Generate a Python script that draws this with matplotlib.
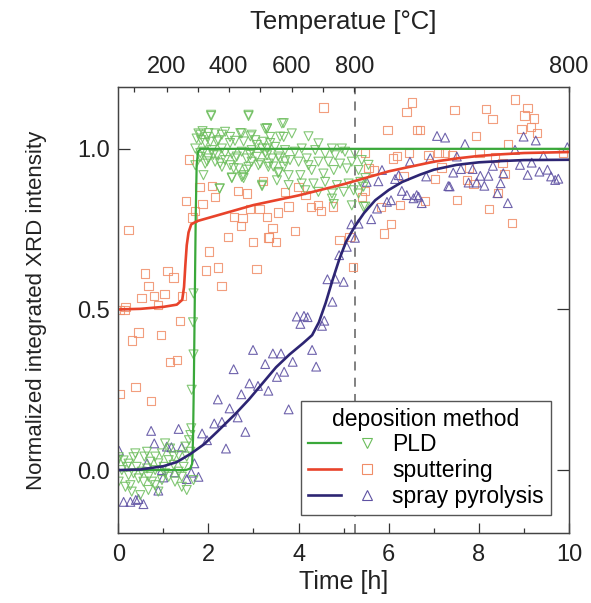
import numpy as np
import matplotlib
matplotlib.use("Agg")
import matplotlib.pyplot as plt
from matplotlib.lines import Line2D
from matplotlib.legend_handler import HandlerTuple

plt.rcParams['font.family'] = ['Liberation Sans', 'DejaVu Sans']

# ---- fitted curves (time [h], normalized intensity)
pld_fit_t = [0, 1.5, 1.6, 1.64, 1.66, 1.68, 1.70, 1.72, 1.74, 1.77, 1.82, 2.0, 10]
pld_fit_y = [0, 0.0, 0.005, 0.02, 0.1, 0.3, 0.55, 0.8, 0.95, 0.99, 1.0, 1.0, 1.0]

sput_fit_t = [0, 0.5, 1.0, 1.3, 1.42, 1.46, 1.49, 1.52, 1.56, 1.62, 1.75, 2.0, 3.0, 4.0,
              5.0, 5.5, 6.0, 6.5, 7.0, 7.5, 8.0, 8.5, 9.0, 10]
sput_fit_y = [0.5, 0.502, 0.508, 0.515, 0.53, 0.57, 0.64, 0.7, 0.74, 0.765, 0.775, 0.785,
              0.825, 0.855, 0.89, 0.91, 0.93, 0.945, 0.96, 0.97, 0.978, 0.983, 0.987, 0.99]

spray_fit_t = [0, 0.5, 1.0, 1.3, 1.6, 1.9, 2.2, 2.6, 2.9, 3.2, 3.5, 3.8, 4.1, 4.3, 4.45,
               4.6, 4.75, 4.9, 5.05, 5.24, 5.45, 5.7, 6.0, 6.3, 6.7, 7.0, 7.5, 8.0, 8.5,
               9.0, 10]
spray_fit_y = [0, 0.002, 0.012, 0.025, 0.05, 0.08, 0.12, 0.175, 0.22, 0.27, 0.32, 0.36,
               0.395, 0.42, 0.46, 0.52, 0.59, 0.655, 0.71, 0.757, 0.8, 0.84, 0.872, 0.897,
               0.92, 0.935, 0.95, 0.958, 0.962, 0.965, 0.966]

# ---- measured points
pld_pts = [
    (0.01, 0.04), (0.12, 0.03), (0.23, 0.02), (0.34, 0.04), (0.41, 0.01), (0.52, -0.005),
    (0.64, 0.005), (0.71, 0.026), (0.82, 0.042), (0.89, 0.021), (1.01, 0.01), (1.12, 0.031),
    (1.23, 0.016), (1.34, -0.005), (1.45, 0.01), (1.52, 0.042), (1.6, 0.057), (1.57, 0.093),
    (1.49, 0.073), (1.04, 0.083), (1.15, 0.067), (0.97, 0.052), (0.82, 0.0), (0.67, -0.021),
    (0.56, -0.036), (0.45, -0.026), (0.34, -0.01), (0.23, -0.016), (0.08, 0.0), (0.01, -0.036),
    (0.16, -0.052), (0.3, -0.067), (0.49, -0.078), (0.67, -0.062), (0.82, -0.047), (0.97, -0.031),
    (1.12, -0.021), (1.26, -0.036), (1.41, -0.052), (1.52, -0.062), (1.67, -0.031), (1.34, 0.047),
    (1.23, 0.042), (0.38, 0.052), (0.27, -0.047), (0.89, -0.067), (1.41, -0.021), (1.6, 0.109),
    (1.62, 0.13), (0.58, 0.042), (0.19, 0.01), (0.75, -0.036), (1.04, -0.01), (0.0, 0.031),
    (0.64, 0.057),
    (1.66, 0.46), (1.67, 0.36), (1.63, 0.25), (1.67, 0.55),
    (2.06, 1.102), (2.89, 1.102), (1.78, 1.048), (1.87, 1.055), (1.97, 1.037), (2.15, 1.048),
    (2.37, 1.053), (2.48, 1.037), (2.74, 1.048), (2.93, 1.039), (3.26, 1.063), (1.74, 1.032),
    (1.84, 1.027), (2.04, 1.022), (2.22, 1.027), (2.59, 1.025), (3.04, 1.027), (3.22, 1.022),
    (1.71, 1.001), (1.89, 0.991), (2.08, 0.996), (2.30, 1.001), (2.52, 0.985), (2.74, 0.991),
    (2.96, 0.996), (3.19, 1.001), (1.82, 0.975), (2.00, 0.970), (2.19, 0.980), (2.37, 0.965),
    (2.59, 0.970), (2.85, 0.970), (3.07, 0.975), (3.30, 0.980), (1.71, 0.949), (1.93, 0.954),
    (2.30, 0.944), (2.48, 0.949), (2.67, 0.939), (2.89, 0.944), (3.11, 0.949), (3.33, 0.954),
    (1.89, 0.918), (2.52, 0.911), (2.74, 0.913), (2.25, 0.876), (3.19, 0.884), (2.78, 0.918),
    (2.15, 0.960), (2.96, 0.960),
    (3.30, 1.063), (3.37, 1.037), (3.63, 1.079), (3.67, 1.037), (3.85, 1.048), (4.22, 1.039),
    (4.44, 1.017), (4.74, 1.001), (4.96, 1.001), (3.30, 1.001), (3.48, 1.006), (3.70, 0.996),
    (3.92, 0.991), (4.07, 1.001), (4.37, 0.996), (4.59, 0.985), (4.81, 0.980), (5.03, 0.991),
    (5.25, 0.985), (3.41, 0.970), (3.59, 0.970), (3.81, 0.965), (4.00, 0.960), (4.18, 0.970),
    (4.44, 0.960), (4.66, 0.960), (4.92, 0.954), (5.18, 0.960), (5.40, 0.965), (3.33, 0.944),
    (3.56, 0.928), (3.78, 0.918), (4.04, 0.918), (4.29, 0.934), (4.55, 0.923), (4.78, 0.934),
    (5.07, 0.939), (5.33, 0.934), (3.52, 0.902), (3.78, 0.887), (4.07, 0.892), (4.33, 0.892),
    (4.59, 0.897), (4.85, 0.887), (5.11, 0.892), (5.37, 0.897), (4.15, 0.871), (4.44, 0.866),
    (4.74, 0.861), (5.00, 0.866), (5.22, 0.871), (5.44, 0.882), (4.78, 0.828), (5.18, 0.824),
    (5.44, 0.819), (4.74, 0.845), (5.33, 0.861), (4.22, 0.949), (3.67, 0.944),
    (5.48, 0.909), (5.48, 0.82), (5.55, 0.95),
    (2.06, 1.106), (2.89, 1.106), (3.67, 1.08), (1.82, 1.044), (2.0, 1.049), (2.30, 1.044),
    (2.71, 1.049), (2.96, 1.044), (3.30, 1.064), (3.59, 1.038), (1.93, 1.018), (2.19, 1.023),
    (2.48, 1.018), (2.78, 1.023), (3.07, 1.012), (3.37, 1.018), (1.82, 0.987), (2.11, 0.981),
    (2.37, 0.987), (2.63, 0.976), (2.93, 0.981), (3.26, 0.987), (3.55, 0.976), (1.97, 0.961),
    (2.26, 0.955), (2.56, 0.940), (2.85, 0.935), (3.15, 0.955), (3.44, 0.945), (3.70, 0.961),
    (2.52, 0.909), (2.78, 0.909), (3.55, 0.924), (2.25, 0.877), (3.19, 0.888),
]

sput_pts = [
    (0.23, 0.747), (1.57, 0.967), (1.51, 0.838), (1.71, 0.807), (1.65, 0.786), (1.87, 0.828),
    (1.80, 0.882), (2.08, 0.884), (2.15, 0.85), (2.65, 0.869), (2.85, 0.861), (2.93, 0.813),
    (3.13, 0.813), (2.57, 0.788), (2.76, 0.785), (2.72, 0.759), (2.43, 0.726), (2.99, 0.709),
    (2.01, 0.68), (1.94, 0.621), (2.22, 0.631), (3.07, 0.626), (2.29, 0.574), (3.21, 0.9),
    (3.30, 0.788), (3.33, 0.724), (0.6, 0.612), (1.09, 0.62), (1.23, 0.599), (0.67, 0.573),
    (1.03, 0.549), (0.52, 0.536), (0.8, 0.541), (1.41, 0.542), (0.16, 0.508), (0.88, 0.513),
    (0.14, 0.498), (0.04, 0.498), (1.37, 0.465), (0.45, 0.428), (0.30, 0.403), (0.95, 0.421),
    (1.15, 0.336), (1.30, 0.343), (0.38, 0.258), (0.04, 0.236), (0.73, 0.215),
    (4.55, 1.129), (6.51, 1.144), (6.39, 1.115), (5.97, 1.058), (5.48, 0.988), (6.10, 0.97),
    (6.19, 0.977), (6.45, 0.986), (5.55, 0.941), (5.68, 0.934), (6.33, 0.915), (4.28, 0.819),
    (4.43, 0.825), (4.50, 0.807), (4.77, 0.821), (3.78, 0.821), (3.55, 0.802), (4.0, 0.882),
    (3.70, 0.866), (4.15, 0.856), (3.42, 0.754), (3.35, 0.724), (3.50, 0.71), (3.92, 0.745),
    (4.91, 0.717), (5.13, 0.726), (5.20, 0.632), (5.48, 0.869), (5.40, 0.85), (5.83, 0.819),
    (6.25, 0.825), (6.05, 0.765), (5.90, 0.736), (6.62, 1.058),
    (7.46, 1.12), (8.15, 1.125), (8.30, 1.093), (8.80, 1.154), (9.08, 1.127), (9.01, 1.104),
    (9.22, 1.094), (8.94, 1.062), (9.16, 1.069), (9.29, 1.05), (6.70, 1.058), (7.94, 1.04),
    (8.65, 1.015), (6.88, 0.98), (7.10, 0.986), (7.24, 0.986), (7.40, 0.98), (8.01, 0.986),
    (8.36, 0.973), (8.52, 0.956), (9.87, 0.989), (7.17, 0.942), (7.78, 0.942), (7.03, 0.906),
    (7.73, 0.904), (7.88, 0.89), (8.57, 0.921), (8.42, 0.863), (7.52, 0.84), (6.81, 0.838),
    (8.23, 0.813), (8.73, 0.769),
]

spray_pts = [
    (0.02, 0.06), (0.73, 0.122), (1.34, 0.128), (0.80, 0.083), (1.08, 0.073), (1.18, 0.071),
    (1.41, 0.071), (0.64, 0.021), (1.69, 0.021), (0.97, 0.0), (1.25, -0.007), (1.52, -0.028),
    (1.0, -0.023), (1.78, -0.021), (1.62, -0.008), (0.89, -0.064), (0.12, -0.099), (0.27, -0.099),
    (0.39, -0.093), (0.45, -0.09), (0.56, -0.106), (1.86, 0.114), (1.97, 0.093), (2.21, 0.22),
    (2.39, 0.067), (2.13, 0.145), (2.30, 0.15), (2.47, 0.192), (2.65, 0.164), (2.82, 0.119),
    (2.56, 0.314), (2.73, 0.236), (2.91, 0.27), (2.99, 0.374), (3.10, 0.262), (3.26, 0.33),
    (3.33, 0.247), (3.43, 0.363), (3.61, 0.363), (3.52, 0.29), (3.68, 0.306), (3.87, 0.337),
    (3.78, 0.189), (3.96, 0.478), (4.12, 0.48), (4.20, 0.476), (4.04, 0.455), (4.30, 0.374),
    (4.39, 0.322), (4.57, 0.465), (4.52, 0.449), (4.75, 0.524),
    (4.64, 0.594), (4.81, 0.596), (5.0, 0.586), (4.90, 0.669), (5.07, 0.695), (5.17, 0.765),
    (5.33, 0.767), (5.25, 0.723), (5.61, 0.781), (5.74, 0.814), (5.96, 0.835), (6.05, 0.84),
    (5.51, 0.897), (5.77, 0.899), (5.85, 0.934), (6.22, 0.918), (6.29, 0.869), (6.40, 0.856),
    (6.47, 0.96), (6.62, 0.856),
    (7.07, 1.04), (7.25, 1.035), (7.69, 1.015), (8.99, 1.038), (9.26, 1.026), (8.80, 0.997),
    (9.43, 0.978), (9.96, 1.005), (6.92, 0.971), (7.51, 0.976), (8.31, 0.947), (8.91, 0.95),
    (9.17, 0.957), (6.14, 0.906), (6.83, 0.914), (7.43, 0.926), (7.60, 0.937), (7.86, 0.937),
    (7.77, 0.895), (7.95, 0.895), (8.03, 0.916), (8.21, 0.916), (8.12, 0.885), (8.48, 0.893),
    (8.54, 0.924), (7.35, 0.883), (8.41, 0.862), (8.64, 0.831), (9.08, 0.919), (9.34, 0.929),
    (9.52, 0.935), (9.60, 0.914), (9.76, 0.907), (9.69, 0.903), (6.55, 0.846), (6.66, 0.851),
    (6.73, 0.831), (7.32, 0.884),
]

# top axis: temperature ramp
temp_major_t = [1.08, 2.45, 3.85, 5.24, 10.0]
temp_major_lbl = ['200', '400', '600', '800', '800']
temp_minor_t = [0.36, 1.76, 3.15, 4.54]

c_pld, c_sput, c_spray = '#3aa83a', '#e8432b', '#2d2573'
m_pld, m_sput, m_spray = '#6cbd5c', '#f08d68', '#5f52a3'

fig = plt.figure(figsize=(5.91, 6.03), dpi=100)
ax = fig.add_axes([0.2, 0.116, 0.763, 0.740])

ax.axvline(5.25, color='#777777', ls=(0, (5, 4)), lw=1.3, zorder=1)

p = np.array(pld_pts)
s = np.array(sput_pts)
q = np.array(spray_pts)
ax.scatter(s[:, 0], s[:, 1], marker='s', s=36, facecolors='none', edgecolors=m_sput,
           linewidths=0.8, alpha=0.85, zorder=2)
ax.scatter(q[:, 0], q[:, 1], marker='^', s=40, facecolors='none', edgecolors=m_spray,
           linewidths=0.8, alpha=0.9, zorder=2)
ax.scatter(p[:, 0], p[:, 1], marker='v', s=42, facecolors='none', edgecolors=m_pld,
           linewidths=0.8, alpha=0.85, zorder=2)

ax.plot(pld_fit_t, pld_fit_y, color=c_pld, lw=1.6, zorder=3)
ax.plot(sput_fit_t, sput_fit_y, color=c_sput, lw=1.9, zorder=3)
ax.plot(spray_fit_t, spray_fit_y, color=c_spray, lw=1.9, zorder=3)

ax.set_xlim(0, 10)
ax.set_ylim(-0.196, 1.193)
ax.set_xticks([0, 2, 4, 6, 8, 10])
ax.set_xticks([1, 3, 5, 7, 9], minor=True)
ax.set_yticks([0.0, 0.5, 1.0])
ax.set_yticklabels(['0.0', '0.5', '1.0'])
ax.tick_params(which='major', axis='x', direction='in', length=7, width=0.9, labelsize=17,
               pad=8, colors='#333333', labelcolor='#222222')
ax.tick_params(which='minor', axis='x', direction='in', length=3.6, width=0.9, colors='#333333')
ax.tick_params(axis='y', direction='in', length=8.5, width=0.9, labelsize=17, pad=6,
               right=True, colors='#333333', labelcolor='#222222')
for sp in ax.spines.values():
    sp.set_color('#444444')
    sp.set_linewidth(1.0)

ax.set_xlabel('Time [h]', fontsize=18, color='#222222', labelpad=3)
ax.set_ylabel('Normalized integrated XRD intensity', fontsize=16, color='#222222',
              labelpad=22)

top = ax.twiny()
top.set_xlim(ax.get_xlim())
top.set_xticks(temp_major_t)
top.set_xticklabels(temp_major_lbl)
top.set_xticks(temp_minor_t, minor=True)
top.tick_params(which='both', direction='in', length=3.6, width=0.9, labelsize=17, pad=6,
                colors='#333333', labelcolor='#222222')
top.set_xlabel('Temperatue [°C]', fontsize=18.5, color='#222222', labelpad=20)
for sp in top.spines.values():
    sp.set_color('#444444')

handles = [
    (Line2D([], [], color=c_pld, lw=1.6),
     Line2D([], [], marker='v', ls='none', ms=7, mfc='none', mec=m_pld, mew=0.8)),
    (Line2D([], [], color=c_sput, lw=1.9),
     Line2D([], [], marker='s', ls='none', ms=6.5, mfc='none', mec=m_sput, mew=0.8)),
    (Line2D([], [], color=c_spray, lw=1.9),
     Line2D([], [], marker='^', ls='none', ms=7, mfc='none', mec=m_spray, mew=0.8)),
]
leg = ax.legend(handles, ['PLD', 'sputtering', 'spray pyrolysis'],
                handler_map={tuple: HandlerTuple(ndivide=None, pad=0.4)},
                title='deposition method', loc='lower right', fontsize=16.5, title_fontsize=16.5,
                handlelength=3.3, handletextpad=0.4, borderaxespad=0.8, borderpad=0.3,
                labelspacing=0.12, fancybox=False, framealpha=1, edgecolor='#555555')
leg.get_frame().set_linewidth(1.0)

fig.savefig('out.png', dpi=100)
